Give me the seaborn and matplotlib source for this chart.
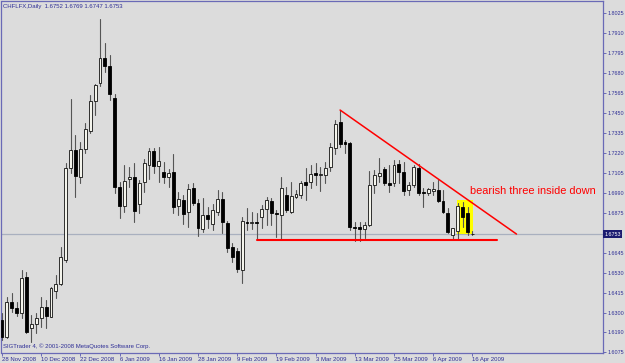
import numpy as np
import pandas as pd
import matplotlib
matplotlib.use("Agg")
import matplotlib.pyplot as plt
import matplotlib.transforms as mtransforms
from matplotlib.patches import Rectangle
import seaborn as sns

# ---------------- data ----------------
symbol_title = "CHFLFX,Daily  1.6752 1.6769 1.6747 1.6753"
copyright_text = "SIGTrader 4, \u00a9 2001-2008 MetaQuotes Software Corp."
pattern_label = "bearish three inside down"

opens = [1.6260, 1.6162, 1.6363, 1.6329, 1.6300, 1.6507, 1.6214, 1.6237, 1.6271, 1.6335,
         1.6277, 1.6427, 1.6467, 1.6605, 1.7134, 1.7237, 1.7082, 1.7243, 1.7347, 1.7519,
         1.7623, 1.7766, 1.7720, 1.7536, 1.7025, 1.6915, 1.7071, 1.7082, 1.6927, 1.7053,
         1.7151, 1.7232, 1.7145, 1.7111, 1.7082, 1.7111, 1.6915, 1.6950, 1.6881, 1.7019,
         1.6933, 1.6783, 1.6864, 1.6812, 1.6881, 1.6956, 1.6818, 1.6680, 1.6657, 1.6547,
         1.6823, 1.6818, 1.6823, 1.6852, 1.6898, 1.6944, 1.6875, 1.6864, 1.6979, 1.6881,
         1.6967, 1.6979, 1.7053, 1.7053, 1.7105, 1.7094, 1.7094, 1.7140, 1.7249, 1.7398,
         1.7283, 1.7278, 1.6795, 1.6795, 1.6783, 1.6806, 1.7036, 1.7088, 1.7128, 1.7048,
         1.7048, 1.7157, 1.7111, 1.7007, 1.7036, 1.7134, 1.6996, 1.6990, 1.7002, 1.7007,
         1.6944, 1.6875, 1.6749, 1.6772, 1.6910, 1.6875, 1.6752]
highs = [1.6300, 1.6392, 1.6415, 1.6363, 1.6547, 1.6536, 1.6289, 1.6300, 1.6392, 1.6375,
         1.6450, 1.6519, 1.6680, 1.7163, 1.7531, 1.7324, 1.7283, 1.7393, 1.7554, 1.7617,
         1.7991, 1.7853, 1.7784, 1.7559, 1.7053, 1.7151, 1.7140, 1.7163, 1.7065, 1.7186,
         1.7249, 1.7249, 1.7255, 1.7168, 1.7128, 1.7214, 1.6996, 1.6979, 1.7042, 1.7048,
         1.6956, 1.6961, 1.6910, 1.6927, 1.7007, 1.6996, 1.6829, 1.6703, 1.6674, 1.6852,
         1.6904, 1.6881, 1.6875, 1.6921, 1.6967, 1.6961, 1.6892, 1.7082, 1.7025, 1.7053,
         1.7007, 1.7059, 1.7134, 1.7151, 1.7163, 1.7140, 1.7168, 1.7278, 1.7410, 1.7467,
         1.7295, 1.7283, 1.6823, 1.6823, 1.6823, 1.7117, 1.7122, 1.7191, 1.7140, 1.7151,
         1.7180, 1.7180, 1.7168, 1.7053, 1.7151, 1.7157, 1.7019, 1.7019, 1.7053, 1.7065,
         1.7007, 1.6904, 1.6789, 1.6933, 1.6938, 1.6910, 1.6769]
lows = [1.6145, 1.6157, 1.6306, 1.6283, 1.6271, 1.6185, 1.6133, 1.6185, 1.6220, 1.6214,
        1.6277, 1.6386, 1.6461, 1.6593, 1.7105, 1.6967, 1.7048, 1.7220, 1.7335, 1.7439,
        1.7605, 1.7686, 1.7525, 1.6990, 1.6846, 1.6881, 1.7025, 1.6823, 1.6875, 1.6996,
        1.7071, 1.7105, 1.7053, 1.7048, 1.7025, 1.6875, 1.6864, 1.6812, 1.6795, 1.6921,
        1.6743, 1.6766, 1.6789, 1.6777, 1.6864, 1.6760, 1.6651, 1.6593, 1.6536, 1.6473,
        1.6777, 1.6783, 1.6720, 1.6789, 1.6806, 1.6806, 1.6737, 1.6720, 1.6881, 1.6875,
        1.6961, 1.6961, 1.6950, 1.7019, 1.7036, 1.7002, 1.7048, 1.7117, 1.7214, 1.7255,
        1.7220, 1.6777, 1.6714, 1.6714, 1.6731, 1.6800, 1.6990, 1.7053, 1.7036, 1.6996,
        1.7030, 1.7048, 1.6979, 1.6979, 1.7025, 1.6979, 1.6910, 1.6979, 1.6979, 1.6938,
        1.6875, 1.6760, 1.6726, 1.6726, 1.6795, 1.6749, 1.6747]
closes = [1.6162, 1.6363, 1.6329, 1.6300, 1.6501, 1.6191, 1.6237, 1.6271, 1.6335, 1.6283,
          1.6444, 1.6467, 1.6622, 1.7134, 1.7237, 1.7088, 1.7243, 1.7358, 1.7519, 1.7611,
          1.7766, 1.7720, 1.7559, 1.7025, 1.6915, 1.7059, 1.7082, 1.6887, 1.7048, 1.7163,
          1.7232, 1.7145, 1.7174, 1.7082, 1.7105, 1.6910, 1.6956, 1.6869, 1.7013, 1.6933,
          1.6789, 1.6864, 1.6841, 1.6892, 1.6956, 1.6823, 1.6674, 1.6622, 1.6553, 1.6829,
          1.6818, 1.6823, 1.6818, 1.6898, 1.6950, 1.6875, 1.6869, 1.7019, 1.6892, 1.6973,
          1.6984, 1.7048, 1.7036, 1.7099, 1.7094, 1.7099, 1.7134, 1.7255, 1.7387, 1.7272,
          1.7272, 1.6795, 1.6789, 1.6783, 1.6806, 1.7036, 1.7094, 1.7105, 1.7048, 1.7036,
          1.7151, 1.7111, 1.7002, 1.7036, 1.7140, 1.6990, 1.6990, 1.7013, 1.7013, 1.6944,
          1.6881, 1.6766, 1.6789, 1.6915, 1.6852, 1.6766, 1.6753]

date_labels = ["28 Nov 2008", "10 Dec 2008", "22 Dec 2008", "6 Jan 2009", "16 Jan 2009",
               "28 Jan 2009", "9 Feb 2009", "19 Feb 2009", "3 Mar 2009", "13 Mar 2009",
               "25 Mar 2009", "6 Apr 2009", "16 Apr 2009"]
date_label_step = 8
price_ticks = [1.8025, 1.7910, 1.7795, 1.7680, 1.7565, 1.7450, 1.7335, 1.7220, 1.7105,
               1.6990, 1.6875, 1.6645, 1.6530, 1.6415, 1.6300, 1.6190, 1.6075]
price_tick_labels = ["1.8025", "1.7910", "1.7795", "1.7680", "1.7565", "1.7450", "1.7335",
                     "1.7220", "1.7105", "1.6990", "1.6875", "1.6645", "1.6530", "1.6415",
                     "1.6300", "1.6190", "1.6075"]
current_price = 1.6753
current_price_label = "1.6753"

resistance_bars = [69, 105]
resistance_prices = [1.7467, 1.6754]
support_bars = [52, 101]
support_prices = [1.6717, 1.6717]
pattern_bars = [93, 95]
pattern_box_prices = [1.6757, 1.6950]
label_bar = 95.5
label_price = 1.7002

# ---------------- style ----------------
BG = "#dcdcdc"
AXC = "#6a6ab6"
TXT = "#2e2e96"
sns.set_style("white", {"axes.facecolor": BG, "figure.facecolor": BG,
                        "axes.edgecolor": AXC})
plt.rcParams["font.family"] = ["Liberation Sans", "DejaVu Sans"]

fig = plt.figure(figsize=(6.25, 3.63), dpi=100)
ax = fig.add_axes([1.5 / 625, 10.5 / 363, 601 / 625, 351.5 / 363])
ax.set_facecolor(BG)

df = pd.DataFrame({"open": opens, "high": highs, "low": lows, "close": closes})
df["bar"] = np.arange(len(df))

# wicks via seaborn (one unit per bar)
wick = pd.concat([df[["bar", "low"]].rename(columns={"low": "price"}),
                  df[["bar", "high"]].rename(columns={"high": "price"})])
sns.lineplot(data=wick, x="bar", y="price", units="bar", estimator=None,
             color="#555555", linewidth=0.8, ax=ax, zorder=3, legend=False)

# bodies
up = df["close"] >= df["open"]
body_bottom = np.minimum(df["open"], df["close"])
body_h = np.abs(df["close"] - df["open"])
ax.bar(df["bar"][up], body_h[up], bottom=body_bottom[up], width=0.6,
       color="#f4f4ec", edgecolor="#111111", linewidth=0.6, zorder=4)
ax.bar(df["bar"][~up], body_h[~up], bottom=body_bottom[~up], width=0.6,
       color="#000000", edgecolor="#000000", linewidth=0.6, zorder=4)

# current price line
ax.axhline(current_price, color="#a9b0bf", linewidth=0.9, zorder=1)

# pattern highlight
ax.add_patch(Rectangle((pattern_bars[0] - 0.15, pattern_box_prices[0]),
                       pattern_bars[1] - pattern_bars[0] + 1.3,
                       pattern_box_prices[1] - pattern_box_prices[0],
                       facecolor="#ffff00", edgecolor="none", zorder=2))

# trend lines
sns.lineplot(x=resistance_bars, y=resistance_prices, color="#ff0000",
             linewidth=1.1, ax=ax, zorder=5)
sns.lineplot(x=support_bars, y=support_prices, color="#ff0000",
             linewidth=1.5, ax=ax, zorder=5)

ax.text(label_bar, label_price, pattern_label, color="#ff0000", fontsize=7.9,
        ha="left", va="center", zorder=6)

# axes
ax.set_xlim(-0.1, 122.55)
ax.set_ylim(1.6073, 1.8094)
ax.set_xlabel("")
ax.set_ylabel("")
ax.yaxis.tick_right()
ax.set_yticks(price_ticks)
ax.set_yticklabels(price_tick_labels)
xt = list(range(0, len(df), date_label_step))
ax.set_xticks(xt)
ax.set_xticklabels(date_labels[:len(xt)])
for lbl in ax.get_xticklabels():
    lbl.set_ha("left")
ax.tick_params(axis="both", which="both", direction="out", length=2.2, width=0.7,
               color=AXC, labelcolor=TXT)
ax.tick_params(axis="y", right=True, left=False, pad=1.2, labelsize=3.9)
ax.tick_params(axis="x", bottom=True, pad=1.2, labelsize=4.3)
for s in ax.spines.values():
    s.set_visible(True)
    s.set_color(AXC)
    s.set_linewidth(0.9)

# current price tag on axis
trans = mtransforms.blended_transform_factory(ax.transAxes, ax.transData)
ax.text(1.0035, current_price, current_price_label, transform=trans,
        fontsize=3.9, color="white", ha="left", va="center", zorder=10,
        bbox=dict(boxstyle="square,pad=0.25", facecolor="#1c1c70", edgecolor="none"),
        clip_on=False)

ax.text(0.003, 0.984, symbol_title, transform=ax.transAxes, fontsize=4.3,
        color=TXT, ha="left", va="center")
ax.text(0.003, 0.018, copyright_text, transform=ax.transAxes, fontsize=4.3,
        color=TXT, ha="left", va="center")

fig.savefig("out.png", dpi=100, facecolor=BG)
